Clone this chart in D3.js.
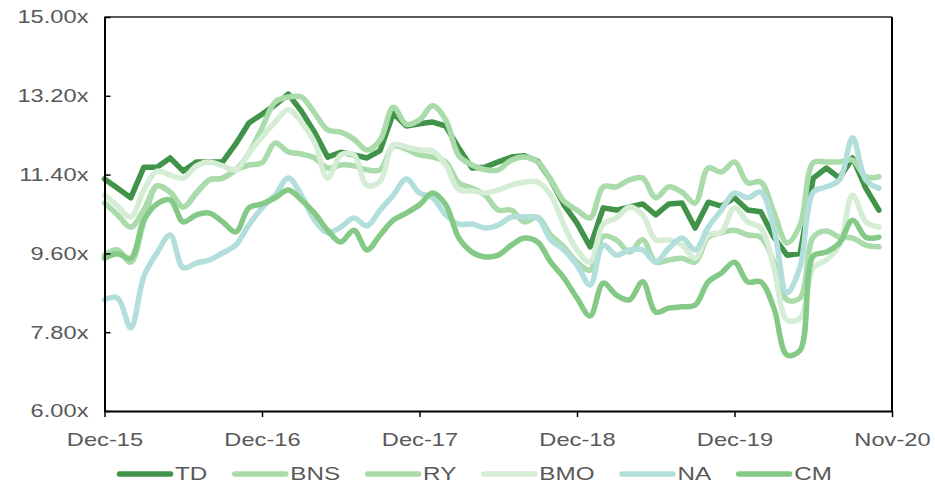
<!DOCTYPE html>
<html lang="en">
<head>
	<meta charset="utf-8">
	<title>Bank P/E multiples</title>
	<script src="https://d3js.org/d3.v7.min.js" charset="utf-8"></script>
	<style>
		body { margin: 0; background: #fff; }
		text { font-family: "Liberation Sans", Arial, sans-serif; fill: #595959; }
	</style>
</head>
<body>
	<div id="container"></div>

	<script>
		// x ticks: one every 12 months, last one at the end of the axis
		var xTicks = [0, 12, 24, 36, 48, 60];
		var xTickLabels = ["Dec-15", "Dec-16", "Dec-17", "Dec-18", "Dec-19", "Nov-20"];
		var yTicks = [6, 7.8, 9.6, 11.4, 13.2, 15];

		var names = ["TD", "BNS", "RY", "BMO", "NA", "CM"];
		var colors = ["#41934a", "#a9dbab", "#a9dbab", "#d5ecd5", "#b2dedc", "#85c987"];

		// monthly values, Dec-15 .. Nov-20
		var td = [11.30, 11.09, 10.87, 11.57, 11.57, 11.78, 11.48, 11.69, 11.69, 11.69,
			12.10, 12.58, 12.78, 12.99, 13.24, 12.85, 12.37, 11.80, 11.91, 11.85,
			11.78, 11.95, 12.80, 12.51, 12.56, 12.60, 12.51, 12.00, 11.55, 11.57,
			11.69, 11.80, 11.83, 11.71, 11.28, 10.71, 10.29, 9.75, 10.64, 10.59,
			10.66, 10.73, 10.48, 10.73, 10.75, 10.18, 10.77, 10.68, 10.87, 10.59,
			10.55, 9.97, 9.56, 9.60, 11.32, 11.55, 11.32, 11.78, 11.09, 10.59];
		var bns = [9.56, 9.68, 9.40, 10.32, 11.14, 11.00, 10.66, 10.98, 11.28, 11.32,
			11.51, 11.62, 11.67, 12.12, 11.92, 11.87, 11.78, 11.55, 11.62, 11.60,
			11.51, 11.51, 12.05, 11.98, 11.85, 11.80, 11.69, 11.21, 11.09, 10.93,
			10.59, 10.59, 10.32, 10.43, 10.02, 9.75, 9.40, 9.22, 9.99, 9.91,
			9.63, 9.91, 9.40, 9.45, 9.49, 9.40, 9.97, 10.07, 10.13, 10.02,
			9.97, 9.40, 8.54, 8.58, 9.97, 10.11, 9.97, 9.95, 9.79, 9.75];
		var ry = [10.75, 10.48, 10.20, 10.60, 11.14, 11.00, 10.66, 10.98, 11.28, 11.32,
			11.51, 11.89, 12.46, 13.06, 13.17, 13.17, 12.81, 12.42, 12.37, 12.21,
			11.96, 12.19, 12.94, 12.55, 12.65, 12.97, 12.65, 11.83, 11.62, 11.51,
			11.51, 11.73, 11.80, 11.69, 11.28, 10.80, 10.59, 10.41, 11.12, 11.12,
			11.28, 11.32, 10.87, 11.12, 11.00, 10.75, 11.55, 11.46, 11.69, 11.21,
			11.23, 10.54, 9.84, 10.25, 11.67, 11.69, 11.69, 11.73, 11.35, 11.35];
		var bmo = [10.93, 10.68, 10.43, 11.05, 11.48, 11.39, 11.32, 11.60, 11.69, 11.60,
			11.51, 11.89, 12.26, 12.60, 12.88, 12.60, 12.14, 11.32, 11.85, 11.85,
			11.15, 11.25, 12.08, 12.03, 11.96, 11.94, 11.62, 11.05, 11.03, 10.98,
			11.05, 11.16, 11.23, 11.23, 10.93, 10.25, 9.68, 9.40, 10.27, 10.41,
			10.66, 10.48, 9.91, 9.91, 9.79, 9.49, 10.02, 10.09, 10.64, 10.32,
			10.18, 9.27, 8.08, 8.12, 9.27, 9.45, 9.79, 10.93, 10.32, 10.20];
		var na = [8.54, 8.58, 7.90, 9.08, 9.61, 10.02, 9.27, 9.38, 9.45, 9.61,
			9.79, 10.25, 10.64, 10.93, 11.32, 10.93, 10.36, 10.07, 10.20, 10.41,
			10.23, 10.59, 10.93, 11.30, 10.98, 10.87, 10.48, 10.27, 10.27, 10.18,
			10.25, 10.43, 10.43, 10.41, 9.91, 9.68, 9.33, 8.88, 9.79, 9.56,
			9.68, 9.68, 9.40, 9.72, 9.95, 9.68, 10.20, 10.59, 10.98, 10.87,
			11.00, 10.18, 8.70, 9.30, 11.00, 11.12, 11.28, 12.24, 11.28, 11.09];
		var cm = [9.49, 9.59, 9.49, 10.36, 10.73, 10.82, 10.32, 10.48, 10.52, 10.32,
			10.09, 10.64, 10.73, 10.87, 11.05, 10.82, 10.52, 10.13, 9.86, 10.13,
			9.68, 10.02, 10.36, 10.52, 10.71, 10.98, 10.71, 9.95, 9.63, 9.52,
			9.56, 9.79, 9.95, 9.86, 9.40, 9.04, 8.58, 8.17, 8.92, 8.65,
			8.54, 8.95, 8.26, 8.35, 8.38, 8.42, 8.95, 9.15, 9.40, 8.95,
			8.95, 8.35, 7.28, 7.39, 9.54, 9.63, 9.84, 10.36, 9.97, 9.97];

		var series = [td, bns, ry, bmo, na, cm];

		var svgWidth = 935,
			svgHeight = 486,
			margin = {top: 17, right: 43, bottom: 75, left: 104.5},
			width = svgWidth - margin.left - margin.right,
			height = svgHeight - margin.top - margin.bottom,
			stretch = 1.28,   // the labels in the picture are drawn wide
			fontSize = 18.5,
			svg = d3.select("#container")
				.append("svg")
				.attr("width", svgWidth)
				.attr("height", svgHeight),
			g = svg.append("g")
				.attr("transform", "translate(" + margin.left + "," + margin.top + ")");

		var x = d3.scaleLinear().domain([0, 60]).range([0, width]);
		var y = d3.scaleLinear().domain([6, 15]).range([height, 0]);

		// frame: top and right borders
		g.append("line")
			.attr("x1", 0).attr("x2", width)
			.attr("y1", 0).attr("y2", 0)
			.attr("stroke", "#222").attr("stroke-width", 1.5);
		g.append("line")
			.attr("x1", width).attr("x2", width)
			.attr("y1", 0).attr("y2", height)
			.attr("stroke", "#000").attr("stroke-width", 2);

		// series lines, in legend order so CM ends up on top
		series.forEach(function(values, k) {
			var line = d3.line()
				.x(function(d, i) { return x(i); })
				.y(function(d) { return y(d); })
				.curve(k === 0 ? d3.curveLinear : d3.curveCatmullRom.alpha(0.5));
			g.append("path")
				.datum(values)
				.attr("fill", "none")
				.attr("stroke", colors[k])
				.attr("stroke-width", 5.5)
				.attr("stroke-linejoin", "round")
				.attr("stroke-linecap", "round")
				.attr("d", line);
		});

		// y axis with inside ticks
		var yAxis = g.append("g")
			.call(d3.axisLeft(y)
				.tickValues(yTicks)
				.tickSizeInner(-6)
				.tickSizeOuter(0)
				.tickPadding(16)
				.tickFormat(function(d) { return d3.format(".2f")(d) + "x"; }));

		// x axis with outside ticks
		var xAxis = g.append("g")
			.attr("transform", "translate(0," + height + ")")
			.call(d3.axisBottom(x)
				.tickValues(xTicks)
				.tickSizeInner(6)
				.tickSizeOuter(0)
				.tickPadding(16)
				.tickFormat(function(d, i) { return xTickLabels[i]; }));

		[yAxis, xAxis].forEach(function(ax) {
			ax.select(".domain").attr("stroke", "#000").attr("stroke-width", 2);
			ax.selectAll(".tick line").attr("stroke", "#000").attr("stroke-width", 1.5);
			ax.selectAll(".tick text")
				.attr("font-size", fontSize)
				.attr("fill", "#595959")
				.attr("transform", "scale(" + stretch + ",1)");
		});
		yAxis.selectAll(".tick text").attr("x", -16 / stretch);

		// legend
		var legend = svg.append("g").attr("transform", "translate(0,474)");
		var lx = 117,
			legendStretch = 1.31;
		names.forEach(function(name, k) {
			var item = legend.append("g").attr("transform", "translate(" + lx + ",0)");
			item.append("line")
				.attr("x1", 2.5).attr("x2", 53.5)
				.attr("y1", 0).attr("y2", 0)
				.attr("stroke", colors[k])
				.attr("stroke-width", 5.5)
				.attr("stroke-linecap", "round");
			var t = item.append("text")
				.attr("x", 58 / legendStretch)
				.attr("dy", "0.35em")
				.attr("font-size", fontSize)
				.attr("transform", "scale(" + legendStretch + ",1)")
				.text(name);
			lx += 58 + t.node().getComputedTextLength() * legendStretch + 25;
		});
	</script>
</body>
</html>
